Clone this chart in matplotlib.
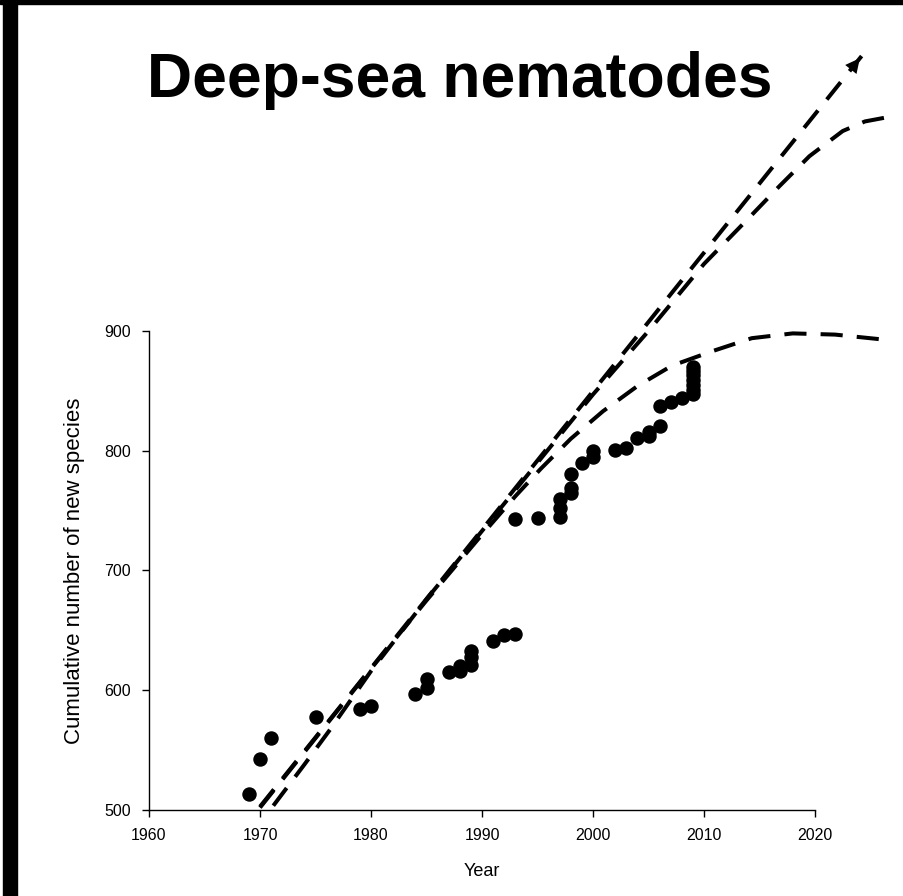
import matplotlib.pyplot as plt
from matplotlib.patches import Rectangle

plt.rcParams['font.family'] = ['Liberation Sans', 'DejaVu Sans']

# Puntos observados (año, especies acumuladas)
years = [1969, 1970, 1971, 1975, 1979, 1980, 1984, 1985, 1985, 1987, 1988, 1988,
         1989, 1989, 1989, 1991, 1992, 1993, 1993, 1995, 1997, 1997, 1997, 1998,
         1998, 1998, 1999, 2000, 2000, 2002, 2003, 2004, 2005, 2005, 2006, 2006,
         2007, 2008, 2009, 2009, 2009, 2009, 2009, 2009, 2009]
species = [513, 543, 560, 578, 584, 587, 597, 602, 609, 615, 616, 620,
           621, 628, 633, 641, 646, 647, 743, 744, 745, 752, 760, 765,
           769, 781, 790, 795, 800, 801, 802, 811, 812, 816, 821, 837,
           841, 844, 847, 851, 855, 859, 863, 867, 870]

# Tendencia lineal (con flecha)
lin_years = [1970, 2024.2]
lin_vals = [502.8, 1129.6]

# Tendencia curva superior
up_years = [1971.2, 1974, 1976.3, 1980, 1985, 1990, 1995, 2000, 2005, 2010,
            2014, 2016.8, 2019.5, 2022.5, 2024.5, 2026.8]
up_vals = [503.6, 538, 567, 616, 676, 733, 790, 847, 900, 956,
           994, 1021, 1046, 1067, 1075, 1079]

# Tendencia que se aplana
flat_years = [1970, 1975, 1980, 1985, 1990, 1993, 1995.3, 1998, 2000.9, 2004,
              2007.1, 2010.7, 2014.3, 2018, 2021.8, 2026]
flat_vals = [502, 560, 618, 675, 730, 762, 785, 810, 833, 854,
             871, 883, 894, 898, 897, 893]

fig = plt.figure(figsize=(9.04, 8.96), dpi=100)
ax = fig.add_axes([149/904, 1 - 810/896, 666/904, 479/896])

dash = (0, (5.5, 3.5))
ax.plot(lin_years, lin_vals, color='black', lw=2.9, linestyle=dash,
        dash_capstyle='butt', clip_on=False)
ax.plot(up_years, up_vals, color='black', lw=2.9, linestyle=dash,
        dash_capstyle='butt', clip_on=False)
ax.plot(flat_years, flat_vals, color='black', lw=2.9, linestyle=dash,
        dash_capstyle='butt', clip_on=False)
ax.annotate('', xy=(lin_years[1], lin_vals[1]),
            xytext=(lin_years[1] - 1.0, lin_vals[1] - 11.56),
            arrowprops=dict(arrowstyle='-|>', color='black', lw=0,
                            mutation_scale=26),
            annotation_clip=False)

ax.plot(years, species, 'o', color='black', markersize=9.4, clip_on=False)

ax.set_xlim(1960, 2020)
ax.set_ylim(500, 900)
ax.set_xticks([1960, 1970, 1980, 1990, 2000, 2010, 2020])
ax.set_yticks([500, 600, 700, 800, 900])
ax.spines['top'].set_visible(False)
ax.spines['right'].set_visible(False)
for s in ['left', 'bottom']:
    ax.spines[s].set_linewidth(1.0)
ax.tick_params(direction='out', length=5, width=1, labelsize=11.5, pad=8)
ax.set_xlabel('Year', fontsize=13, labelpad=14)
ax.set_ylabel('Cumulative number of new species', fontsize=13,
              family=['Liberation Sans Narrow', 'Liberation Sans'],
              fontstretch='condensed', labelpad=14)
ax.yaxis.label.set_size(16)

fig.text(0.509, 1 - 97/896, 'Deep-sea nematodes', fontsize=45,
         fontweight='bold', ha='center', va='baseline')

# Bordes negros
fig.patches.append(Rectangle((3/904, 0), 14/904, 1, transform=fig.transFigure,
                             color='black', zorder=10))
fig.patches.append(Rectangle((0, 1 - 4/896), 1, 4/896, transform=fig.transFigure,
                             color='black', zorder=10))

plt.savefig('out.png', dpi=100)
